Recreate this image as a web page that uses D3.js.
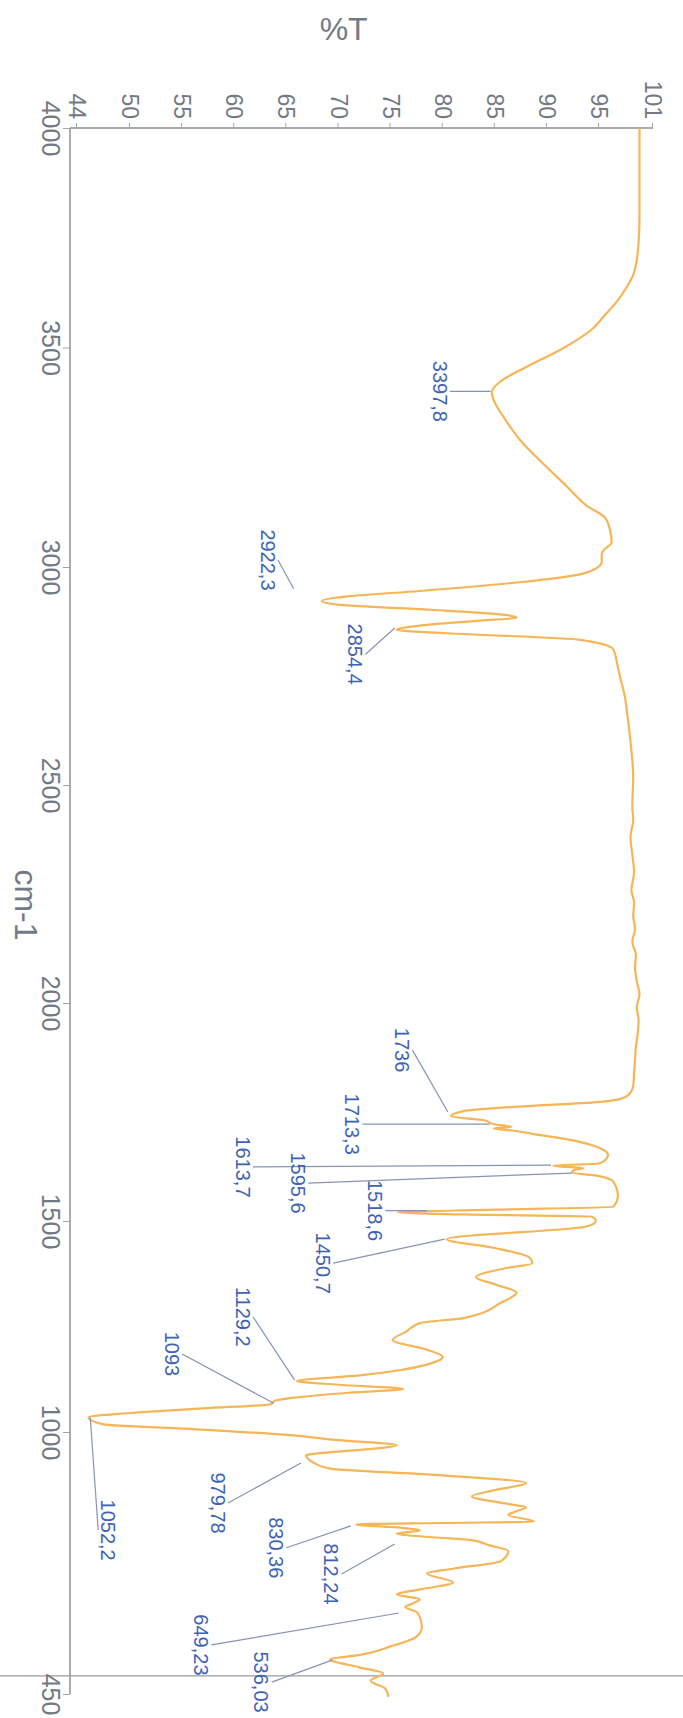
<!DOCTYPE html>
<html>
<head>
<meta charset="utf-8">
<script src="https://cdn.jsdelivr.net/npm/d3@7"></script>
<style>
  html, body { margin: 0; padding: 0; background: #fff; }
  svg { display: block; font-family: "Liberation Sans", Arial, sans-serif; }
</style>
</head>
<body>
<div id="chart"></div>
<script>
// IR spectrum. Drawn as a normal wavenumber / %T chart, then the whole
// group is turned 90deg clockwise, the way the printed sheet was scanned.

// axis ticks
const wnTicks = [4000, 3500, 3000, 2500, 2000, 1500, 1000, 450];
const tTicks = [44, 50, 55, 60, 65, 70, 75, 80, 85, 90, 95, 101];

// spectrum (cm-1, %T)
const specWn = [4000, 3900, 3800, 3740, 3700, 3665, 3635, 3605, 3575, 3541, 3495, 3454, 3422, 3398, 3370, 3336, 3290, 3234, 3184, 3140,
  3112, 3086, 3056, 3040, 3030, 3012, 2995, 2983, 2965, 2945, 2933, 2922, 2913, 2902, 2890, 2884, 2876, 2866, 2856, 2848,
  2833, 2811, 2780, 2751, 2700, 2669, 2600, 2517, 2450, 2420, 2380, 2340, 2300, 2260, 2230, 2200, 2170, 2140, 2110, 2080,
  2050, 2020, 1990, 1960, 1930, 1900, 1870, 1840, 1810, 1792, 1780, 1772, 1764, 1752, 1740, 1731, 1722, 1716, 1712, 1707,
  1700, 1685, 1668, 1652, 1640, 1632, 1627, 1621, 1617, 1611, 1604, 1590, 1558, 1533, 1526, 1520, 1515, 1510, 1500, 1487,
  1457, 1436, 1414, 1400, 1388, 1367, 1350, 1330, 1318, 1305, 1282, 1270, 1258, 1238, 1218, 1195, 1178, 1168, 1159, 1147,
  1134, 1121, 1112, 1102, 1093, 1082, 1074, 1066, 1056, 1045, 1035, 1018, 1007, 994, 983, 972, 966, 959, 951, 937,
  923, 910, 893, 878, 865, 850, 842, 833, 826, 812, 809, 806, 799, 793, 787, 779, 773, 762, 750, 729,
  713, 703, 684, 670, 659, 649, 639, 633, 622, 612, 589, 569, 550, 532, 523, 506, 493, 478, 461, 444];
const specT = [99.5, 99.5, 99.5, 99.4, 99.2, 98.8, 98.0, 97.0, 95.7, 94.3, 91.3, 87.9, 85.5, 84.7, 85.1, 86.0, 87.4, 89.7, 91.9, 93.8,
  95.7, 96.2, 96.4, 95.6, 95.3, 95.3, 94.6, 93.2, 87.4, 77.8, 71.1, 68.4, 70.2, 78.8, 86.0, 87.1, 83.0, 78.0, 75.6, 80.4,
  93.2, 96.6, 97.0, 97.3, 97.9, 98.1, 98.5, 98.8, 98.7, 98.8, 98.5, 98.7, 98.9, 98.6, 98.9, 98.8, 99.0, 98.7, 99.1, 99.0,
  99.2, 99.5, 99.2, 99.4, 99.3, 99.1, 99.0, 98.9, 98.8, 98.4, 97.4, 94.5, 88.5, 82.0, 80.8, 84.0, 84.9, 86.6, 84.9, 86.8,
  88.6, 92.5, 95.0, 96.0, 95.7, 95.0, 90.6, 93.5, 92.6, 92.4, 94.8, 96.6, 97.1, 96.6, 85.0, 75.7, 82.0, 94.3, 94.7, 93.8,
  80.4, 85.0, 88.3, 88.6, 86.0, 83.2, 85.0, 87.1, 86.5, 85.5, 83.8, 82.0, 77.8, 76.5, 75.2, 78.5, 80.0, 79.5, 78.4, 76.0,
  72.0, 66.0, 70.0, 76.2, 71.0, 66.0, 63.9, 63.5, 57.0, 50.0, 45.3, 47.0, 56.0, 65.0, 70.0, 75.6, 74.0, 70.0, 66.9, 67.5,
  69.2, 79.2, 88.0, 85.0, 82.8, 86.0, 88.0, 87.0, 86.3, 88.8, 80.0, 71.7, 76.0, 77.8, 75.6, 79.0, 82.8, 84.5, 86.3, 85.6,
  81.0, 78.5, 81.0, 78.0, 75.6, 77.8, 77.0, 76.4, 77.5, 77.8, 78.0, 77.4, 75.0, 72.1, 69.2, 72.0, 74.3, 73.1, 74.5, 74.8];

// peak labels as printed
const peakNames = ["3397,8", "2922,3", "2854,4", "1736", "1713,3", "1613,7", "1595,6", "1518,6", "1450,7",
  "1129,2", "1093", "1052,2", "979,78", "830,36", "812,24", "649,23", "536,03"];
// leader lines: label end and peak end, both as [cm-1, %T]
const leadFrom = [[3400, 80.7], [3016, 64.2], [2800, 72.6], [1892, 77.1], [1722, 72.3], [1624, 61.8], [1587, 67.1], [1524, 74.5], [1400, 69.5],
  [1273, 61.8], [1185, 55.0], [794, 46.4], [851, 59.4], [757, 65.0], [702, 70.3], [553, 57.8], [475, 63.6]];
const leadTo = [[3400, 84.6], [2950, 65.7], [2860, 75.4], [1750, 80.5], [1722, 84.5], [1628, 90.4], [1610, 92.4], [1524, 78.5], [1457, 80.2],
  [1123, 65.8], [1068, 63.8], [1035, 45.5], [935, 66.4], [803, 71.2], [765, 75.4], [620, 75.8], [521, 69.4]];
// which side of the leader the text sits: -1 toward low %T, +1 toward high %T
const labelSide = [-1, -1, -1, -1, -1, -1, -1, -1, -1, -1, -1, 1, -1, -1, -1, -1, -1];

const W = 683, H = 1718;

const svg = d3.select("#chart").append("svg")
    .attr("width", W)
    .attr("height", H);

// local frame: u runs down the page, v runs right-to-left
const g = svg.append("g")
    .attr("transform", `translate(${W},0) rotate(90)`);

// the scan is not quite linear, so a few anchor points
const x = d3.scaleLinear()
    .domain([4000, 3000, 1500, 1000, 450])
    .range([128, 567, 1221, 1432, 1694]);

const y = d3.scaleLinear()
    .domain([44, 50, 95, 101])
    .range([W - 77, W - 130, W - 599, W - 653]);

const axisV = W - 70; // left axis line on the page
const axisColor = "#8b8f96";
const tickText = "#737a86";

// axis lines
g.append("line")
    .attr("x1", x(4000)).attr("x2", x(450))
    .attr("y1", axisV).attr("y2", axisV)
    .attr("stroke", axisColor).attr("stroke-width", 1.5);
g.append("line")
    .attr("x1", x(4000)).attr("x2", x(4000))
    .attr("y1", axisV).attr("y2", y(101))
    .attr("stroke", axisColor).attr("stroke-width", 1.5);

// frame rule of the printed sheet near the bottom
const sheetRuleWn = 488;
g.append("line")
    .attr("x1", x(sheetRuleWn)).attr("x2", x(sheetRuleWn))
    .attr("y1", 0).attr("y2", W)
    .attr("stroke", "#9a9a9a").attr("stroke-width", 1.3);

// wavenumber axis
const xAxis = g.append("g")
    .attr("transform", `translate(0,${axisV})`)
    .call(d3.axisBottom(x).tickValues(wnTicks).tickSize(7).tickPadding(3).tickFormat(d3.format("d")));
xAxis.select(".domain").remove();
xAxis.selectAll(".tick line").attr("stroke", "#a0a4aa");
xAxis.selectAll(".tick text")
    .attr("fill", tickText)
    .attr("font-size", 25)
    .attr("font-family", "Liberation Sans, Arial, sans-serif");

// %T axis
const yAxis = g.append("g")
    .attr("transform", `translate(${x(4000)},0)`)
    .call(d3.axisLeft(y).tickValues(tTicks).tickSize(5).tickPadding(4));
yAxis.select(".domain").remove();
yAxis.selectAll(".tick line").attr("stroke", "#a0a4aa");
yAxis.selectAll(".tick text")
    .attr("fill", tickText)
    .attr("font-size", 23)
    .attr("font-family", "Liberation Sans, Arial, sans-serif");

// titles
g.append("text")
    .attr("transform", `translate(40,${y(70.5)}) rotate(-90)`)
    .attr("text-anchor", "middle")
    .attr("fill", tickText)
    .attr("font-size", 32)
    .text("%T");

g.append("text")
    .attr("x", (x(4000) + x(450)) / 2 - 6)
    .attr("y", W - 15)
    .attr("text-anchor", "middle")
    .attr("fill", tickText)
    .attr("font-size", 32)
    .text("cm-1");

// spectrum
const line = d3.line()
    .x(i => x(specWn[i]))
    .y(i => y(specT[i]))
    .curve(d3.curveMonotoneX);

g.append("path")
    .datum(d3.range(specWn.length))
    .attr("fill", "none")
    .attr("stroke", "#f6b557")
    .attr("stroke-width", 2.2)
    .attr("stroke-linejoin", "round")
    .attr("d", line);

// peak leaders and labels
const peaks = g.append("g");
peaks.selectAll("line")
    .data(peakNames)
    .join("line")
    .attr("x1", (d, i) => x(leadFrom[i][0]))
    .attr("y1", (d, i) => y(leadFrom[i][1]))
    .attr("x2", (d, i) => x(leadTo[i][0]))
    .attr("y2", (d, i) => y(leadTo[i][1]))
    .attr("stroke", "#8495b4")
    .attr("stroke-width", 1.2);

peaks.selectAll("text")
    .data(peakNames)
    .join("text")
    .attr("x", (d, i) => x(leadFrom[i][0]))
    .attr("y", (d, i) => y(leadFrom[i][1]) + (labelSide[i] < 0 ? 3 : -3))
    .attr("dy", (d, i) => labelSide[i] < 0 ? "0.72em" : "0")
    .attr("text-anchor", "middle")
    .attr("fill", "#3d63b6")
    .attr("font-size", 20)
    .text(d => d);
</script>
</body>
</html>
